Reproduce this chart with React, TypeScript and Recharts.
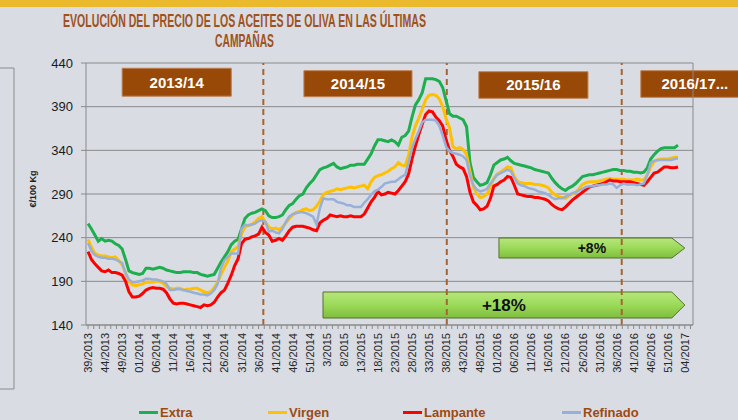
import {
  CartesianGrid,
  Line,
  LineChart,
  ReferenceArea,
  ReferenceLine,
  XAxis,
  YAxis,
} from 'recharts';

// tick labels, one every 5 weeks
const weekLabels = [
  '39/2013', '44/2013', '49/2013', '01/2014', '06/2014', '11/2014', '16/2014', '21/2014',
  '26/2014', '31/2014', '36/2014', '41/2014', '46/2014', '51/2014', '3/2015', '8/2015',
  '13/2015', '18/2015', '23/2015', '28/2015', '33/2015', '38/2015', '43/2015', '48/2015',
  '01/2016', '06/2016', '11/2016', '16/2016', '21/2016', '26/2016', '31/2016', '36/2016',
  '41/2016', '46/2016', '51/2016', '04/2017',
];

// €/100 kg, weekly from 39/2013
const extra = [
  256, 250, 243, 236, 239, 236, 237, 236, 233, 231,
  227, 215, 202, 200, 199, 198, 199, 205, 205, 204,
  205, 206, 205, 203, 202, 201, 200, 200, 201, 201,
  201, 200, 200, 198, 197, 196, 197, 198, 205, 212,
  218, 224, 232, 236, 238, 250, 262, 266, 268, 269,
  271, 273, 271, 265, 263, 263, 264, 266, 272, 277,
  279, 284, 288, 290, 297, 302, 306, 312, 318, 320,
  321, 323, 325, 321, 319, 320, 321, 323, 323, 324,
  324, 324, 330, 336, 345, 352, 352, 351, 350, 352,
  350, 346, 355, 357, 362, 378, 392, 398, 406, 422,
  422, 422, 421, 419, 412, 397, 382, 379, 379, 377,
  375, 367, 326, 309, 304, 300, 301, 303, 312, 323,
  326, 329, 330, 332, 328, 325, 324, 323, 322, 321,
  320, 318, 317, 316, 315, 314, 308, 303, 299, 296,
  294, 297, 299, 302, 306, 310, 311, 312, 312, 313,
  314, 315, 316, 317, 318, 318, 317, 317, 316, 316,
  315, 315, 314, 315, 320, 330, 335, 339, 342, 343,
  343, 343, 343, 346,
];

const virgen = [
  238, 229, 222, 220, 219, 219, 218, 217, 218, 214,
  209, 200, 190, 186, 185, 186, 187, 189, 189, 189,
  190, 190, 188, 184, 182, 181, 182, 182, 180, 181,
  181, 182, 182, 180, 178, 177, 178, 183, 189, 198,
  206, 213, 224, 227, 230, 244, 252, 254, 255, 258,
  262, 264, 258, 252, 250, 251, 249, 252, 257, 262,
  266, 269, 270, 272, 273, 271, 272, 276, 282, 289,
  292, 293, 294, 296, 295, 296, 297, 298, 297, 298,
  299, 300, 296, 304, 309, 311, 312, 314, 316, 319,
  321, 326, 323, 322, 334, 355, 368, 377, 387, 398,
  403, 404, 403, 399, 390, 376, 366, 344, 342, 343,
  341, 335, 316, 298, 290, 286, 287, 290, 298, 308,
  313, 315, 318, 321, 320, 310, 304, 303, 302, 302,
  302, 301, 301, 300, 299, 297, 292, 289, 287, 286,
  285, 288, 290, 292, 296, 301, 303, 304, 304, 304,
  305, 306, 307, 308, 307, 307, 307, 307, 306, 306,
  306, 307, 306, 306, 312, 321, 327, 329, 330, 330,
  330, 331, 332, 332,
];

const lampante = [
  224, 215, 210, 206, 202, 201, 203, 200, 200, 199,
  197, 190, 178, 172, 172, 173, 176, 180, 182, 183,
  182, 182, 181, 177, 170, 165, 164, 165, 165, 164,
  163, 162, 161, 160, 163, 162, 163, 166, 172, 177,
  180, 188, 197, 208, 216, 233, 238, 239, 241, 242,
  244, 252, 246, 243, 236, 237, 239, 237, 242, 248,
  252, 253, 253, 253, 252, 251, 249, 248, 257, 260,
  262, 266, 265, 264, 265, 264, 264, 265, 264, 264,
  264, 267, 274, 281, 286, 293, 289, 290, 292, 291,
  290, 294, 299, 304, 313, 330, 345, 358, 370, 381,
  385, 384, 378, 374, 368, 352, 340, 333, 324, 321,
  319, 310, 292, 281, 277, 272, 273, 276, 285, 299,
  301, 304, 306, 310, 309, 300, 290, 289, 288, 287,
  287, 286, 286, 285, 284, 282, 278, 275, 273, 272,
  275, 279, 283, 286, 289, 292, 295, 298, 299, 300,
  301, 302, 304, 306, 305, 305, 304, 304, 304, 304,
  303, 302, 301, 300, 304, 309, 314, 315, 318, 321,
  321, 320, 320, 321,
];

const refinado = [
  234, 225, 220, 218, 217, 217, 216, 216, 215, 213,
  211, 199, 192, 189, 189, 190, 191, 193, 193, 192,
  192, 191, 190, 187, 180, 180, 181, 181, 180, 179,
  178, 177, 176, 175, 175, 174, 176, 180, 187, 205,
  214, 218, 222, 222, 222, 250, 255, 254, 255, 256,
  259, 260, 258, 247, 248, 246, 245, 250, 258, 264,
  267, 268, 269, 269, 268, 266, 264, 255, 274, 285,
  284, 284, 284, 281, 280, 279, 277, 277, 275, 275,
  275, 280, 284, 289, 293, 295, 298, 302, 303, 304,
  304, 307, 310, 312, 326, 343, 353, 362, 372, 375,
  375, 375, 374, 368, 357, 344, 339, 337, 336, 335,
  333, 329, 311, 300, 295, 293, 294, 296, 302, 307,
  312, 314, 316, 318, 316, 308, 302, 300, 299, 297,
  296, 295, 293, 292, 291, 289, 286, 284, 285, 285,
  287, 289, 291, 292, 294, 296, 298, 299, 299, 300,
  300, 301, 301, 302, 301, 297, 300, 302, 301, 301,
  301, 300, 301, 302, 312, 326, 328, 329, 329, 329,
  329, 329, 330, 331,
];

const rows = extra.map((v, i) => ({
  i,
  extra: v,
  virgen: virgen[i],
  lampante: lampante[i],
  refinado: refinado[i],
}));

const campaigns = ['2013/14', '2014/15', '2015/16', '2016/17...'];
const growth = ['+18%', '+8%'];

const series = [
  { key: 'extra', name: 'Extra', color: '#1dae4e', width: 3 },
  { key: 'virgen', name: 'Virgen', color: '#ffc000', width: 3 },
  { key: 'lampante', name: 'Lampante', color: '#ff0000', width: 3 },
  { key: 'refinado', name: 'Refinado', color: '#98b0d8', width: 2.5 },
];

// annotation placement in axis units
const boxPos = [
  { x1: 10, x2: 42, y1: 402, y2: 434 },
  { x1: 63.3, x2: 95, y1: 401.4, y2: 431.2 },
  { x1: 114.6, x2: 146.6, y1: 399.6, y2: 430 },
  { x1: 162.1, x2: 193.8, y1: 400.7, y2: 431.2 },
];
const arrowPos = [
  { x1: 68.9, x2: 175, y1: 148, y2: 177.8, size: 17 },
  { x1: 120.5, x2: 175, y1: 216.7, y2: 239.6, size: 14 },
];
const seasonBreaks = [51.4, 105.2, 156.5];

const xTicks: number[] = [];
for (let k = 0; k <= 106; k++) xTicks.push((k * 5) / 3);

const brown = '#9c4a14';
const gridColor = '#8a8a8a';

const WeekTick = (props: any) => {
  const { x, y, payload } = props;
  const k = payload.value / 5;
  if (Math.abs(k - Math.round(k)) > 1e-6) return <g />;
  const label = weekLabels[Math.round(k)];
  return (
    <text
      x={x}
      y={y + 2}
      transform={`rotate(-90 ${x} ${y + 2})`}
      textAnchor="end"
      dominantBaseline="central"
      fontSize={11}
      fill="#262626"
    >
      {label}
    </text>
  );
};

const ArrowShape = (props: any) => {
  const { x, y, width, height, text, size } = props;
  const tip = 13;
  const pts = [
    [x, y],
    [x + width - tip, y],
    [x + width, y + height / 2],
    [x + width - tip, y + height],
    [x, y + height],
  ]
    .map((p) => p.join(','))
    .join(' ');
  return (
    <g>
      <polygon points={pts} fill="url(#arrowFill)" stroke="#56712a" strokeWidth={1} />
      <text
        x={x + width / 2}
        y={y + height / 2}
        textAnchor="middle"
        dominantBaseline="central"
        fontSize={size}
        fontWeight="bold"
        fill="#111"
      >
        {text}
      </text>
    </g>
  );
};

const App = () => (
  <div
    style={{
      position: 'fixed',
      left: 0,
      top: 0,
      width: 738,
      height: 420,
      background: '#d9dce3',
      overflow: 'hidden',
      fontFamily: '"Liberation Sans", Arial, sans-serif',
    }}
  >
    <div style={{ position: 'absolute', left: 0, top: 0, width: 738, height: 7, background: '#ebb92c' }} />
    <svg width={738} height={420} style={{ position: 'absolute', left: 0, top: 0 }}>
      <text x={244.5} y={26.5} textAnchor="middle" fontSize={18} fontWeight="bold" fill="#a0521c"
        textLength={363} lengthAdjust="spacingAndGlyphs">
        EVOLUCIÓN DEL PRECIO DE LOS ACEITES DE OLIVA EN LAS ÚLTIMAS
      </text>
      <text x={244.5} y={46.5} textAnchor="middle" fontSize={18} fontWeight="bold" fill="#a0521c"
        textLength={59} lengthAdjust="spacingAndGlyphs">
        CAMPAÑAS
      </text>
      <polyline points="0,68 14,68 14,389 0,389" fill="none" stroke="#8c8c8c" strokeWidth={1} />
      <text x={33} y={189} transform="rotate(-90 33 189)" textAnchor="middle" dominantBaseline="central"
        fontSize={9} fontWeight="bold" fill="#222">
        €/100 Kg
      </text>
    </svg>
    <div style={{ position: 'absolute', left: 0, top: 0 }}>
      <LineChart width={738} height={420} data={rows} margin={{ top: 63, right: 45, bottom: 0, left: 0 }}>
        <defs>
          <linearGradient id="arrowFill" x1="0" y1="0" x2="0" y2="1">
            <stop offset="0%" stopColor="#b7e67c" />
            <stop offset="50%" stopColor="#9bda58" />
            <stop offset="100%" stopColor="#7fbd3e" />
          </linearGradient>
        </defs>
        <CartesianGrid vertical={false} stroke={gridColor} />
        <XAxis
          type="number"
          dataKey="i"
          domain={[-0.6, 177.4]}
          allowDataOverflow
          ticks={xTicks}
          interval={0}
          tick={<WeekTick />}
          tickSize={4}
          axisLine={{ stroke: gridColor }}
          tickLine={{ stroke: gridColor }}
          height={95}
        />
        <YAxis
          domain={[140, 440]}
          ticks={[140, 190, 240, 290, 340, 390, 440]}
          width={86}
          tickSize={5}
          tickMargin={8}
          axisLine={{ stroke: gridColor }}
          tickLine={{ stroke: gridColor }}
          tick={{ fontSize: 13, fill: '#1a1a1a' }}
        />
        <ReferenceLine x={177.4} stroke={gridColor} />
        {seasonBreaks.map((b) => (
          <ReferenceLine key={b} x={b} stroke="#a8632e" strokeWidth={2} strokeDasharray="6 4" />
        ))}
        {boxPos.map((b, k) => (
          <ReferenceArea
            key={campaigns[k]}
            x1={b.x1}
            x2={b.x2}
            y1={b.y1}
            y2={b.y2}
            ifOverflow="visible"
            fill="#984807"
            fillOpacity={1}
            stroke="#c08050"
            label={{ value: campaigns[k], fill: '#fff', fontSize: 15, fontWeight: 'bold', position: 'center' }}
          />
        ))}
        {arrowPos.map((a, k) => (
          <ReferenceArea
            key={growth[k]}
            x1={a.x1}
            x2={a.x2}
            y1={a.y1}
            y2={a.y2}
            shape={(p: any) => <ArrowShape {...p} text={growth[k]} size={a.size} />}
          />
        ))}
        {series.map((s) => (
          <Line
            key={s.key}
            type="linear"
            dataKey={s.key}
            name={s.name}
            stroke={s.color}
            strokeWidth={s.width}
            dot={false}
            activeDot={false}
            isAnimationActive={false}
          />
        ))}
      </LineChart>
    </div>
    {series.map((s, k) => (
      <div
        key={s.key}
        style={{
          position: 'absolute',
          left: [139, 268, 403, 562][k],
          top: 404,
          display: 'flex',
          alignItems: 'center',
          height: 17,
          fontSize: 13,
          fontWeight: 'bold',
          color: brown,
        }}
      >
        <span style={{ display: 'inline-block', width: 19, height: 3, background: s.color, marginRight: 2 }} />
        {s.name}
      </div>
    ))}
  </div>
);

export default App;
